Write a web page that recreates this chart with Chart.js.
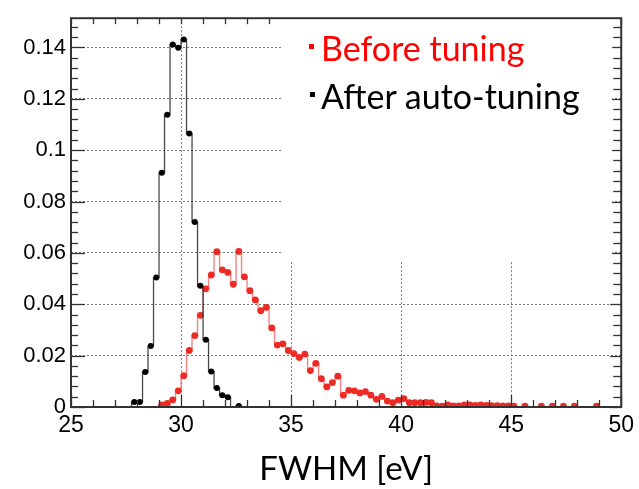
<!DOCTYPE html>
<html><head><meta charset="utf-8">
<script src="https://cdn.jsdelivr.net/npm/chart.js@4/dist/chart.umd.min.js"></script>
<style>
html,body{margin:0;padding:0;background:#fff;}
#wrap{position:relative;width:639px;height:489px;overflow:hidden;}
canvas{display:block;}
.leg{position:absolute;font-family:Lato,'Open Sans',sans-serif;font-size:34px;white-space:nowrap;line-height:34px;}
.sq{position:absolute;width:5px;height:5px;}
</style></head><body>
<div id="wrap">
<canvas id="c" width="639" height="489"></canvas>
<div class="sq" style="left:309px;top:44px;background:#ff0000"></div>
<div class="leg" id="l1" style="left:321px;top:31px;color:#ff0000">Before tuning</div>
<div class="sq" style="left:310px;top:92px;background:#000"></div>
<div class="leg" id="l2" style="left:321px;top:79px;color:#000">After auto-tuning</div>
</div>
<script>
// Histogram bin centres (FWHM, eV) and normalised counts
const blackX = [27.625,27.875,28.125,28.375,28.625,28.875,29.125,29.375,29.625,29.875,30.125,30.375,30.625,30.875,31.125,31.375,31.625,31.875,32.125,32.375,32.625,32.875];
const blackY = [0,0.0019,0.0019,0.0136,0.0238,0.0504,0.0912,0.1138,0.1412,0.1399,0.1431,0.1065,0.0720,0.0472,0.0262,0.0138,0.0074,0.0046,0.0038,0,0.0004,0];

const redX = [25,28.875,29.125,29.375,29.625,29.875,30.125,30.375,30.625,30.875,31.125,31.375,31.625,31.875,32.125,32.375,32.625,32.875,33.125,33.375,33.625,33.875,34.125,34.375,34.625,34.875,35.125,35.375,35.625,35.875,36.125,36.375,36.625,36.875,37.125,37.375,37.625,37.875,38.125,38.375,38.625,38.875,39.125,39.375,39.625,39.875,40.125,40.375,40.625,40.875,41.125,41.375,41.625,41.875,42.125,42.375,42.625,42.875,43.125,43.375,43.625,43.875,44.125,44.375,44.625,44.875,45.125,45.375,45.625,45.875,46.125,46.375,46.625,46.875,47.125,47.375,47.625,47.875,48.125,48.375,48.625,48.875,49.125,50];
const redY = [0,0,0.0008,0.0014,0.0028,0.0063,0.0122,0.0220,0.0278,0.0357,0.0460,0.0514,0.0605,0.0534,0.0524,0.0478,0.0606,0.0507,0.0453,0.0417,0.0375,0.0388,0.0308,0.0241,0.0246,0.0220,0.0208,0.0193,0.0206,0.0142,0.0170,0.0110,0.0078,0.0095,0.0120,0.0046,0.0065,0.0063,0.0055,0.0060,0.0046,0.0030,0.0041,0.0023,0.0017,0.0027,0.0033,0.0017,0.0017,0.0017,0.0018,0.0017,0.0004,0.0003,0.0008,0.0004,0.0004,0.0008,0.0008,0.0006,0.0008,0.0006,0.0005,0.0005,0.0004,0.0004,0.0003,0,0.0003,0,0,0.0003,0,0.0003,0,0.0003,0,0.0003,0,0,0,0.0003,0,0];

const xMin = 25, xMax = 50, xMajor = 5, xMinor = 1;
const yMin = 0, yMax = 0.1514, yMajor = 0.02, yMinor = 0.004;
const xTitle = 'FWHM [eV]';
const seriesNames = ['After auto-tuning','Before tuning'];

const toPts = (xs, ys) => xs.map((x,i)=>({x:x, y:ys[i]}));

const framePlugin = {
  id:'frame',
  afterDraw(chart){
    const {ctx, chartArea:a, scales:{x, y}} = chart;
    ctx.save();
    ctx.strokeStyle = '#333';
    ctx.lineWidth = 1.3;
    for (let v = xMin; v <= xMax + 1e-9; v += xMinor){
      const px = Math.round(x.getPixelForValue(v)) + 0.5;
      const major = Math.abs(v/xMajor - Math.round(v/xMajor)) < 1e-6;
      const L = major ? 12 : 7;
      ctx.beginPath(); ctx.moveTo(px, a.bottom); ctx.lineTo(px, a.bottom - L); ctx.stroke();
      ctx.beginPath(); ctx.moveTo(px, a.top); ctx.lineTo(px, a.top + 6); ctx.stroke();
    }
    for (let v = yMin; v <= yMax + 1e-9; v += yMinor){
      const py = Math.round(y.getPixelForValue(v)) + 0.5;
      const major = Math.abs(v/yMajor - Math.round(v/yMajor)) < 1e-6;
      const L = major ? 14 : 7;
      ctx.beginPath(); ctx.moveTo(a.left, py); ctx.lineTo(a.left + L, py); ctx.stroke();
      ctx.beginPath(); ctx.moveTo(a.right, py); ctx.lineTo(a.right - (major?11:8), py); ctx.stroke();
    }
    // white legend box pasted over the plot
    ctx.fillStyle = '#fff';
    ctx.fillRect(282, 19, a.right - 9 - 282, 262 - 19);
    ctx.lineWidth = 2;
    ctx.strokeStyle = '#333';
    ctx.strokeRect(a.left, a.top, a.right - a.left, a.bottom - a.top);
    ctx.restore();
  }
};

new Chart(document.getElementById('c'), {
  type:'line',
  data:{ datasets:[
    { label:seriesNames[0], data:toPts(blackX, blackY), stepped:'middle',
      borderColor:'rgba(40,40,40,0.85)', borderWidth:1.3,
      pointRadius:c=> c.raw && c.raw.y>0 ? 3 : 0, pointBackgroundColor:'#000', pointBorderWidth:0,
      pointStyle:'circle' },
    { label:seriesNames[1], data:toPts(redX, redY), stepped:'middle',
      borderColor:'rgba(240,80,80,0.7)', borderWidth:1.4,
      pointRadius:c=> c.raw && c.raw.y>0 ? 3.4 : 0, pointBackgroundColor:'#ee2a24', pointBorderWidth:0 }
  ]},
  options:{
    responsive:false, animation:false, parsing:true,
    layout:{padding:{left:0, top:12, right:16, bottom:0}},
    plugins:{legend:{display:false}, tooltip:{enabled:false}},
    scales:{
      x:{ type:'linear', min:xMin, max:xMax,
        ticks:{stepSize:xMajor, color:'#000', font:{family:'Liberation Sans', size:23}, padding:5, maxRotation:0},
        grid:{drawTicks:false, color:c=> (c.tick && (c.tick.value===xMin||c.tick.value===xMax)) ? 'rgba(0,0,0,0)' : '#7a7a7a', lineWidth:1},
        border:{display:false, dash:[2,2]},
        title:{display:true, text:xTitle, color:'#000', font:{family:'Lato', size:33}, padding:{top:4, bottom:0}},
        afterFit:s=>{ s.height = 82; }
      },
      y:{ type:'linear', min:yMin, max:yMax,
        ticks:{stepSize:yMajor, color:'#000', font:{family:'Liberation Sans', size:22}, padding:5,
          callback:v=> (v > 0.145) ? '' : String(+v.toFixed(2)) },
        grid:{drawTicks:false, color:c=> (c.tick && (c.tick.value===0 || c.tick.value>0.145)) ? 'rgba(0,0,0,0)' : '#7a7a7a', lineWidth:1},
        border:{display:false, dash:[2,2]},
        afterFit:s=>{ s.width = 71; }
      }
    }
  },
  plugins:[framePlugin]
});
</script>
</body></html>
